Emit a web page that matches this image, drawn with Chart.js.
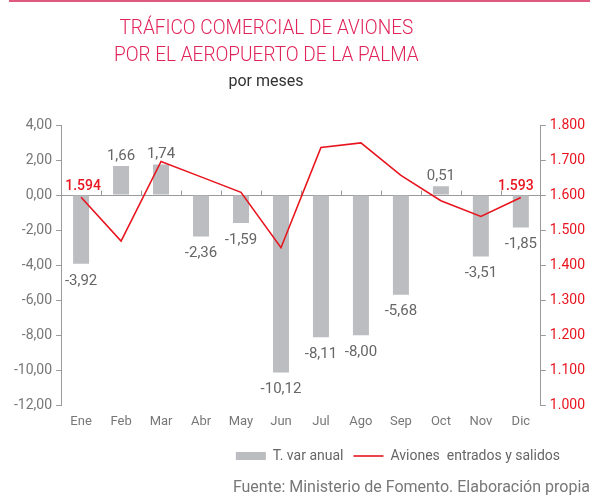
<!DOCTYPE html>
<html>
<head>
<meta charset="utf-8">
<script src="https://cdn.jsdelivr.net/npm/chart.js@4"></script>
<style>
  body { margin: 0; background: #fff; }
  #wrap { position: relative; width: 592px; height: 496px; font-family: Roboto, sans-serif; }
  #wrap canvas { position: absolute; left: 0; top: 0; }
  #topRule { position: absolute; left: 9px; top: 0; width: 581px; height: 2px; background: #e05a80; }
  .title { position: absolute; left: 0; width: 532px; text-align: center; white-space: nowrap; }
  .title span { display: inline-block; transform: scaleX(0.905); }
  #title { top: 14px; font-size: 21px; font-weight: 300; line-height: 27px; color: #e0245a; }
  #subtitle { top: 71px; font-size: 16px; line-height: 20px; color: #333; }
  #source { position: absolute; right: 2px; top: 477px; font-size: 16px; line-height: 20px; color: #777; white-space: nowrap; }
</style>
</head>
<body>
<div id="wrap">
  <canvas id="chart" width="592" height="496"></canvas>
  <div id="topRule"></div>
  <div id="title" class="title"><span>TRÁFICO COMERCIAL DE AVIONES<br>POR EL AEROPUERTO DE LA PALMA</span></div>
  <div id="subtitle" class="title">por meses</div>
  <div id="source">Fuente: Ministerio de Fomento. Elaboración propia</div>
</div>
<script>
// Datos
const months = ['Ene', 'Feb', 'Mar', 'Abr', 'May', 'Jun', 'Jul', 'Ago', 'Sep', 'Oct', 'Nov', 'Dic'];
const varAnual = [-3.92, 1.66, 1.74, -2.36, -1.59, -10.12, -8.11, -8.00, -5.68, 0.51, -3.51, -1.85];
const aviones = [1594, 1469, 1696, 1652, 1608, 1450, 1736, 1749, 1656, 1584, 1539, 1593];
const leftTicks = [-12, -10, -8, -6, -4, -2, 0, 2, 4];
const rightTicks = [1000, 1100, 1200, 1300, 1400, 1500, 1600, 1700, 1800];

const gray = '#bcbdc1';
const red = '#e8151f';
const axisGray = '#9a9a9a';
const font = 'Roboto, sans-serif';

function comma(v) {
    return v.toFixed(2).replace('.', ',');
}
function miles(v) {
    return (v / 1000).toFixed(3);
}

// zero line with little tick marks between months
const zeroLine = {
    id: 'zeroLine',
    beforeDatasetsDraw(chart) {
        const ctx = chart.ctx;
        const area = chart.chartArea;
        const y = Math.round(chart.scales.y.getPixelForValue(0)) + 0.5;
        const xs = chart.scales.x;
        ctx.save();
        ctx.strokeStyle = axisGray;
        ctx.lineWidth = 1;
        ctx.beginPath();
        ctx.moveTo(area.left, y);
        ctx.lineTo(area.right, y);
        for (let i = 1; i < months.length; i++) {
            const x = Math.round((xs.getPixelForValue(i - 1) + xs.getPixelForValue(i)) / 2) + 0.5;
            ctx.moveTo(x, y);
            ctx.lineTo(x, y - 5);
        }
        ctx.stroke();
        ctx.restore();
    }
};

// value labels
const valueLabels = {
    id: 'valueLabels',
    afterDatasetsDraw(chart) {
        const ctx = chart.ctx;
        ctx.save();
        ctx.textAlign = 'center';
        ctx.textBaseline = 'middle';
        ctx.font = '15px ' + font;
        ctx.fillStyle = '#666';
        chart.getDatasetMeta(0).data.forEach((bar, i) => {
            const v = varAnual[i];
            const y = v >= 0 ? bar.y - 10 : bar.y + 17;
            ctx.fillText(comma(v), bar.x, y);
        });
        const pts = chart.getDatasetMeta(1).data;
        ctx.fillStyle = red;
        ctx.font = '500 14px ' + font;
        [0, pts.length - 1].forEach(i => {
            ctx.fillText(miles(aviones[i]), pts[i].x + (i === 0 ? 2 : -5), pts[i].y - 11);
        });
        ctx.restore();
    }
};

// legend sits a little in from the right edge
const legendShift = {
    id: 'legendShift',
    beforeDraw(chart) {
        chart.legend.right -= 19;
    }
};

new Chart(document.getElementById('chart'), {
    type: 'bar',
    data: {
        labels: months,
        datasets: [{
            label: 'T. var anual',
            data: varAnual,
            backgroundColor: gray,
            barPercentage: 0.4,
            categoryPercentage: 1.0,
            pointStyle: 'rect',
            yAxisID: 'y',
            order: 2
        }, {
            type: 'line',
            label: 'Aviones  entrados y salidos',
            data: aviones,
            borderColor: red,
            backgroundColor: red,
            borderWidth: 1.6,
            pointRadius: 0,
            pointStyle: 'line',
            tension: 0,
            yAxisID: 'y1',
            order: 1
        }]
    },
    options: {
        responsive: false,
        animation: false,
        layout: {
            padding: { top: 125, left: 10, right: 3, bottom: 23 }
        },
        scales: {
            x: {
                offset: true,
                grid: { display: false, drawTicks: false },
                border: { display: false },
                ticks: { color: '#777', font: { family: font, size: 13 }, padding: 9 }
            },
            y: {
                position: 'left',
                min: -12,
                max: 4,
                afterBuildTicks: axis => { axis.ticks = leftTicks.map(v => ({ value: v })); },
                grid: { drawOnChartArea: false, drawTicks: true, tickLength: 5, color: axisGray },
                border: { display: true, color: axisGray },
                ticks: {
                    color: '#777',
                    font: { family: font, size: 14 },
                    padding: 4,
                    callback: v => comma(v)
                }
            },
            y1: {
                position: 'right',
                min: 1000,
                max: 1800,
                afterBuildTicks: axis => { axis.ticks = rightTicks.map(v => ({ value: v })); },
                grid: { drawOnChartArea: false, drawTicks: true, tickLength: 5, color: axisGray },
                border: { display: true, color: axisGray },
                ticks: {
                    color: red,
                    font: { family: font, size: 14 },
                    padding: 4,
                    callback: v => miles(v)
                }
            }
        },
        plugins: {
            legend: {
                position: 'bottom',
                align: 'end',
                labels: {
                    usePointStyle: true,
                    pointStyleWidth: 30,
                    boxHeight: 8,
                    color: '#666',
                    font: { family: font, size: 14 },
                    padding: 10,
                    sort: (a, b) => a.datasetIndex - b.datasetIndex
                }
            },
            tooltip: { enabled: false }
        }
    },
    plugins: [zeroLine, valueLabels, legendShift]
});
</script>
</body>
</html>
